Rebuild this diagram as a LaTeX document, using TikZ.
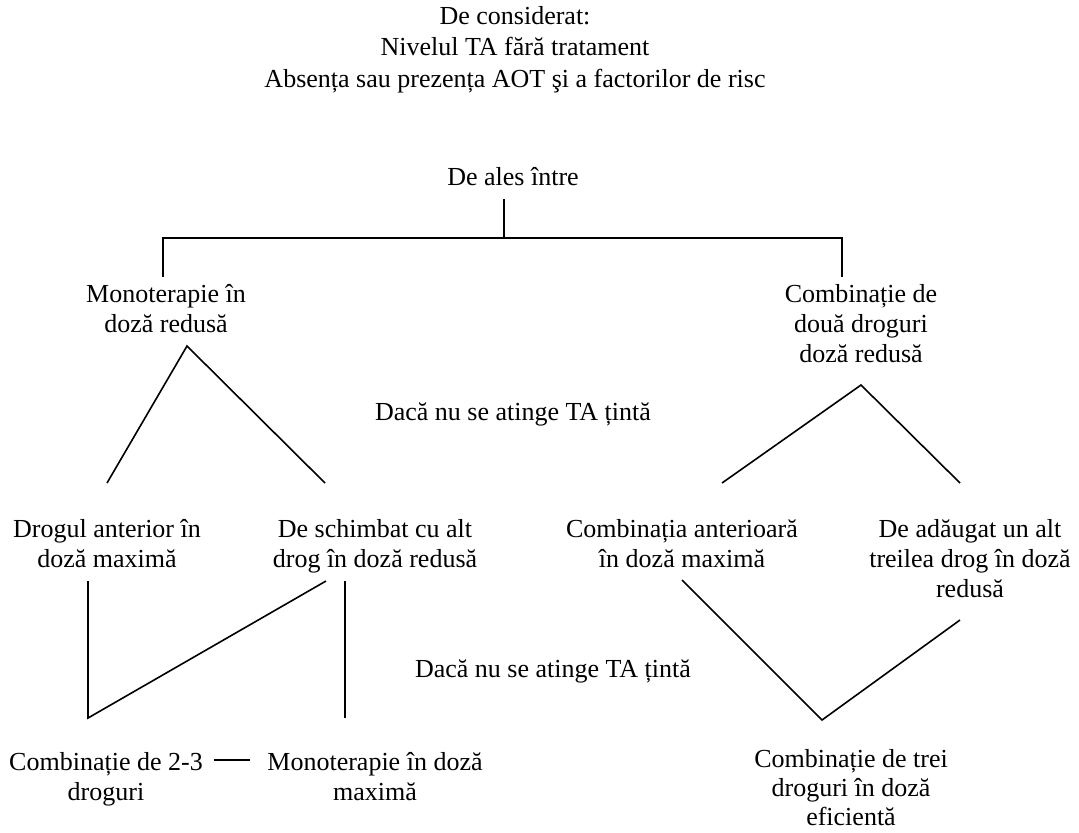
\documentclass[tikz,border=0pt]{standalone}
\usepackage{fontspec}
\setmainfont{Liberation Serif}

\begin{document}
\begin{tikzpicture}[x=0.5pt, y=-0.5pt, line width=0.8pt,
    txt/.style = {align=center, inner sep=0pt, anchor=base, font=\fontsize{13}{15}\selectfont}]
    \useasboundingbox (0,0) rectangle (1079,832);
    % text (placed at the baseline of the last line)
    \node[txt, font=\fontsize{13}{15.75}\selectfont] (cons) at (515,87) {De considerat:\\Nivelul TA fără tratament\\Absența sau prezența AOT şi a factorilor de risc};
    \node[txt] (ales) at (513,185) {De ales între};
    \node[txt] (mono) at (166,332) {Monoterapie în\\doză redusă};
    \node[txt] (comb) at (861,362) {Combinație de\\două droguri\\doză redusă};
    \node[txt] (daca1) at (513,420) {Dacă nu se atinge TA țintă};
    \node[txt] (drogmax) at (107,567) {Drogul anterior în\\doză maximă};
    \node[txt] (schimb) at (375,567) {De schimbat cu alt\\drog în doză redusă};
    \node[txt] (combmax) at (682,567) {Combinația anterioară\\în doză maximă};
    \node[txt] (adaug) at (970,597) {De adăugat un alt\\treilea drog în doză\\redusă};
    \node[txt] (daca2) at (553,677) {Dacă nu se atinge TA țintă};
    \node[txt] (comb23) at (106,800) {Combinație de 2-3\\droguri};
    \node[txt] (monomax) at (375,800) {Monoterapie în doză\\maximă};
    \node[txt, font=\fontsize{13}{14.5}\selectfont] (comb3) at (851,825) {Combinație de trei\\droguri în doză\\eficientă};
    % points
    \coordinate (alesB) at (504,199);
    \coordinate (bar) at (504,238);
    \coordinate (monoT) at (163,277);
    \coordinate (combT) at (842,277);
    \coordinate (monoA) at (187,346);
    \coordinate (drogT) at (107,483);
    \coordinate (schimbT) at (325,483);
    \coordinate (combA) at (861,385);
    \coordinate (combmaxT) at (722,483);
    \coordinate (adaugT) at (960,483);
    \coordinate (drogB) at (88,581);
    \coordinate (comb23T) at (88,718);
    \coordinate (schimbB) at (326,581);
    \coordinate (schimbB2) at (345,581);
    \coordinate (monomaxT) at (345,718);
    \coordinate (combmaxB) at (682,580);
    \coordinate (comb3T) at (822,720);
    \coordinate (adaugB) at (960,620);
    % lines
    \draw (alesB) -- (bar);
    \draw (monoT) -- (monoT |- bar) -- (combT |- bar) -- (combT);
    \draw (drogT) -- (monoA) -- (schimbT);
    \draw (combmaxT) -- (combA) -- (adaugT);
    \draw (drogB) -- (comb23T) -- (schimbB);
    \draw (schimbB2) -- (monomaxT);
    \draw (combmaxB) -- (comb3T) -- (adaugB);
    \draw ([shift={(10,-40)}]comb23.base east) -- ([shift={(-17,-40)}]monomax.base west);
\end{tikzpicture}
\end{document}
